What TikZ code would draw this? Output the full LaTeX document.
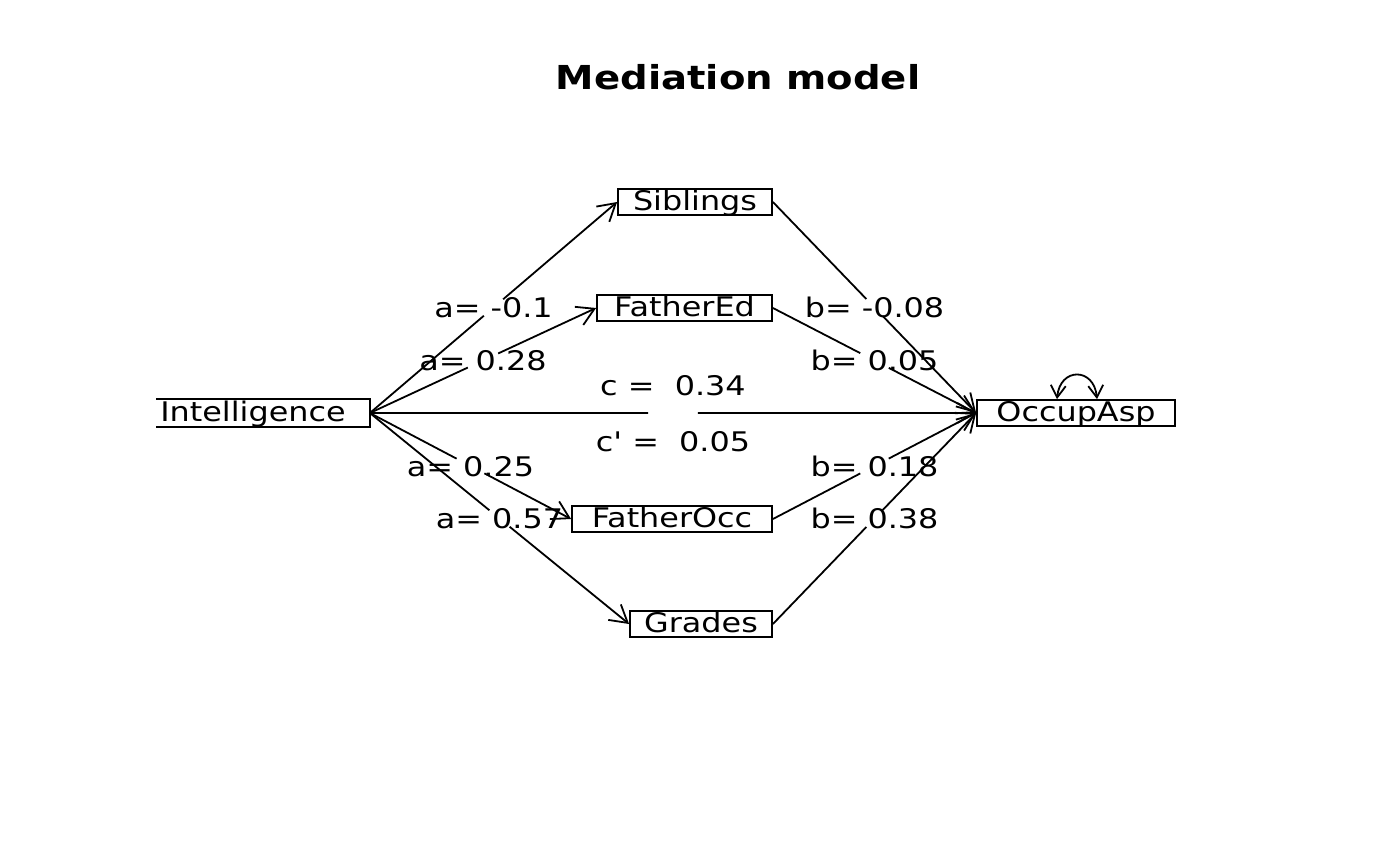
\documentclass[tikz,border=0pt]{standalone}
\usepackage{fontspec}
\setmainfont{DejaVu Sans}[FakeStretch=1.18, Ligatures=TeXOff]
\newfontfamily\titlefont{DejaVu Sans Bold}[FakeStretch=1.17]
\usetikzlibrary{arrows.meta,calc}
\newcommand{\medarrow}[5]{%
  \draw[conn] (#1) -- ($(#1)!#3!(#2)$);
  \draw[conn,arr] ($(#1)!#4!(#2)$) -- (#2);
  \node[lab] at ($(#1)!0.5!(#2)$) {#5};}
\begin{document}
\begin{tikzpicture}[x=0.5pt,y=-0.5pt,
  box/.style={rectangle, draw, line width=0.9pt, inner sep=0pt, minimum height=13pt,
    text height=9.5pt, text depth=1pt, font=\fontsize{13.5}{16}\selectfont},
  lab/.style={inner sep=0pt, text height=10pt, text depth=0pt, font=\fontsize{13.5}{16}\selectfont},
  conn/.style={line width=0.9pt},
  arr/.style={-{Straight Barb[length=8.5pt,width=10pt]}},
  selfarr/.style={{Straight Barb[length=6pt,width=7.5pt]}-{Straight Barb[length=6pt,width=7.5pt]}}]
\useasboundingbox (0,0) rectangle (1400,866);
\node[font=\titlefont\fontsize{16.5}{20}\selectfont, anchor=base, inner sep=0pt] (title) at (738,90) {Mediation model};
% nodes
\node[box, draw=none, minimum width=116pt] (int) at (253,413) {Intelligence};
\draw[conn] ([xshift=10pt]int.north west) -- (int.north east) -- (int.south east) -- ([xshift=10pt]int.south west);
\node[box, minimum width=77pt] (sib) at (695,202) {Siblings};
\node[box, minimum width=87.5pt] (fed) at (684.5,308) {FatherEd};
\node[box, minimum width=100pt] (focc) at (672,519) {FatherOcc};
\node[box, minimum width=71pt] (gra) at (701,624) {Grades};
\node[box, minimum width=99pt] (occ) at (1076,413) {OccupAsp};
% a paths
\medarrow{int.east}{sib.west}{0.461}{0.539}{a= -0.1}
\medarrow{int.east}{fed.west}{0.433}{0.567}{a= 0.28}
\medarrow{int.east}{focc.west}{0.431}{0.569}{a= 0.25}
\medarrow{int.east}{gra.west}{0.461}{0.539}{a= 0.57}
% b paths
\medarrow{sib.east}{occ.west}{0.46}{0.54}{b= -0.08}
\medarrow{fed.east}{occ.west}{0.43}{0.57}{b= 0.05}
\medarrow{focc.east}{occ.west}{0.43}{0.57}{b= 0.18}
\medarrow{gra.east}{occ.west}{0.46}{0.54}{b= 0.38}
% c path
\draw[conn] (int.east) -- ($(int.east)!0.459!(occ.west)$);
\draw[conn,arr] ($(int.east)!0.541!(occ.west)$) -- (occ.west);
\node[lab] (c) at ($(int.east)!0.5!(occ.west)+(0,-28)$) {c =\ \ 0.34};
\node[lab] (cp) at ($(int.east)!0.5!(occ.west)+(0,28)$) {c' =\ \ 0.05};
% self loop
\draw[conn,selfarr] ([xshift=-9.5pt]occ.north) .. controls +(3,-32) and +(-3,-32) .. ([xshift=10.5pt]occ.north);
\end{tikzpicture}
\end{document}
